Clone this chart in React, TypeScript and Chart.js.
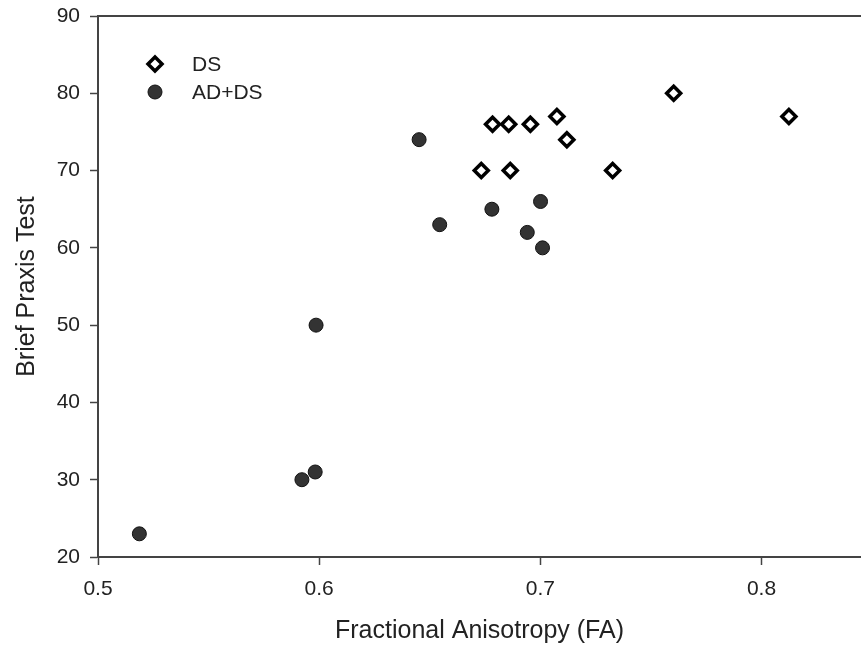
import React, { useEffect, useRef } from 'react';
import { Chart, registerables } from 'chart.js';

Chart.register(...registerables);

// Series names
const seriesNames = ['DS', 'AD+DS'];

// DS group (open diamonds)
const dsFA = [0.6733, 0.6864, 0.6784, 0.6857, 0.6955, 0.7075, 0.712, 0.7327, 0.7603, 0.8124];
const dsBPT = [70, 70, 76, 76, 76, 77, 74, 70, 80, 77];

// AD+DS group (filled circles)
const adFA = [0.5187, 0.5922, 0.5982, 0.5986, 0.6452, 0.6545, 0.6781, 0.6941, 0.7001, 0.701];
const adBPT = [23, 30, 31, 50, 74, 63, 65, 62, 66, 60];

// Tick labels
const xTicks = [0.5, 0.6, 0.7, 0.8];
const yTicks = [20, 30, 40, 50, 60, 70, 80, 90];

const xTitle = 'Fractional Anisotropy (FA)';
const yTitle = 'Brief Praxis Test';

const FONT = '"Liberation Sans", Arial, Helvetica, sans-serif';
const TEXT = '#222';
const AXIS = '#444';

const legendPlugin = {
  id: 'insideLegend',
  afterDraw(chart: any) {
    const { ctx, chartArea } = chart;
    chart.data.datasets.forEach((ds: any, i: number) => {
      const cx = chartArea.left + 57;
      const cy = chartArea.top + 48 + i * 28;
      const r = ds.pointRadius;
      ctx.save();
      ctx.beginPath();
      if (ds.pointStyle === 'rectRot') {
        ctx.moveTo(cx - r, cy);
        ctx.lineTo(cx, cy - r);
        ctx.lineTo(cx + r, cy);
        ctx.lineTo(cx, cy + r);
        ctx.closePath();
      } else {
        ctx.arc(cx, cy, r, 0, Math.PI * 2);
      }
      ctx.fillStyle = ds.pointBackgroundColor;
      ctx.strokeStyle = ds.pointBorderColor;
      ctx.lineWidth = ds.pointBorderWidth;
      ctx.fill();
      ctx.stroke();
      ctx.fillStyle = TEXT;
      ctx.font = `21px ${FONT}`;
      ctx.textBaseline = 'middle';
      ctx.textAlign = 'left';
      ctx.fillText(ds.label, chartArea.left + 94, cy + 1);
      ctx.restore();
    });
  },
};

const zeroPad = (axis: any) => {
  axis.paddingTop = 0;
  axis.paddingBottom = 0;
  axis.paddingLeft = 0;
  axis.paddingRight = 0;
};

export default function App() {
  const ref = useRef<HTMLCanvasElement | null>(null);

  useEffect(() => {
    if (!ref.current) return;
    const chart = new Chart(ref.current, {
      type: 'scatter',
      data: {
        datasets: [
          {
            label: seriesNames[0],
            data: dsFA.map((x, i) => ({ x, y: dsBPT[i] })),
            pointStyle: 'rectRot',
            pointRadius: 7,
            pointBorderWidth: 3.5,
            pointBackgroundColor: '#ffffff',
            pointBorderColor: '#000000',
            pointHoverRadius: 7,
          } as any,
          {
            label: seriesNames[1],
            data: adFA.map((x, i) => ({ x, y: adBPT[i] })),
            pointStyle: 'circle',
            pointRadius: 7,
            pointBorderWidth: 1,
            pointBackgroundColor: '#333333',
            pointBorderColor: '#111111',
            pointHoverRadius: 7,
          } as any,
        ],
      },
      options: {
        animation: false,
        responsive: true,
        maintainAspectRatio: false,
        layout: { autoPadding: false, padding: { left: 0, right: 0, top: 16, bottom: 0 } },
        plugins: {
          legend: { display: false },
          tooltip: { enabled: false },
        },
        scales: {
          x: {
            type: 'linear',
            position: 'bottom',
            min: 0.5,
            max: 0.845,
            afterBuildTicks: (axis: any) => {
              axis.ticks = xTicks.map((v) => ({ value: v }));
            },
            afterFit: (axis: any) => {
              axis.height = 97;
              zeroPad(axis);
            },
            ticks: {
              color: TEXT,
              font: { family: FONT, size: 21 },
              padding: 12,
              callback: (v: any) => Number(v).toFixed(1),
            },
            grid: {
              display: true,
              drawOnChartArea: false,
              drawTicks: true,
              tickLength: 8,
              tickColor: AXIS,
              tickWidth: 1.5,
            },
            border: { display: true, color: AXIS, width: 2 },
            title: {
              display: true,
              text: xTitle,
              color: TEXT,
              font: { family: FONT, size: 25 },
              padding: { top: 12, bottom: 8 },
            },
          },
          x2: {
            type: 'linear',
            position: 'top',
            min: 0.5,
            max: 0.845,
            afterFit: (axis: any) => {
              axis.height = 0;
              zeroPad(axis);
            },
            ticks: { display: false },
            grid: { display: false, drawTicks: false },
            border: { display: true, color: AXIS, width: 2 },
          },
          y: {
            type: 'linear',
            position: 'left',
            min: 20,
            max: 90,
            afterBuildTicks: (axis: any) => {
              axis.ticks = yTicks.map((v) => ({ value: v }));
            },
            afterFit: (axis: any) => {
              axis.width = 98;
              zeroPad(axis);
            },
            ticks: {
              color: TEXT,
              font: { family: FONT, size: 21 },
              padding: 10,
            },
            grid: {
              display: true,
              drawOnChartArea: false,
              drawTicks: true,
              tickLength: 8,
              tickColor: AXIS,
              tickWidth: 1.5,
            },
            border: { display: true, color: AXIS, width: 2 },
            title: {
              display: true,
              text: yTitle,
              color: TEXT,
              font: { family: FONT, size: 25 },
              padding: { top: 12, bottom: 14 },
            },
          },
        },
      } as any,
      plugins: [legendPlugin],
    });
    return () => chart.destroy();
  }, []);

  return (
    <div style={{ position: 'absolute', left: 0, top: 0, width: 861, height: 654, background: '#fff' }}>
      <canvas ref={ref} />
    </div>
  );
}
